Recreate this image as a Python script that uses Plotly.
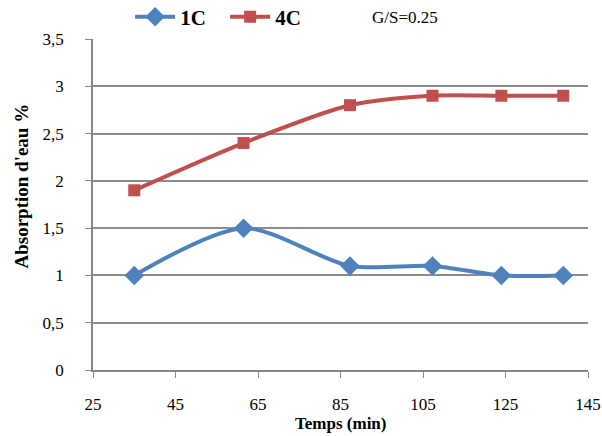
import plotly.graph_objects as go

temps = [35, 61.5, 87.3, 107.3, 124, 139]
s1c = [1.0, 1.5, 1.1, 1.1, 1.0, 1.0]
s4c = [1.9, 2.4, 2.8, 2.9, 2.9, 2.9]
x_ticks = [25, 45, 65, 85, 105, 125, 145]
y_ticks = [0, 0.5, 1, 1.5, 2, 2.5, 3, 3.5]

FONT = "Liberation Serif, Times New Roman, serif"
BLUE = "#4F81BD"
RED = "#C0504D"

fig = go.Figure()
fig.add_trace(go.Scatter(
    x=temps, y=s1c, name="<b>1C</b>", mode="lines+markers",
    line=dict(color=BLUE, width=4, shape="spline", smoothing=0.8),
    marker=dict(symbol="diamond", size=15, color=BLUE),
))
fig.add_trace(go.Scatter(
    x=temps, y=s4c, name="<b>4C</b>", mode="lines+markers",
    line=dict(color=RED, width=4, shape="spline", smoothing=0.8),
    marker=dict(symbol="square", size=12, color=RED),
))

fig.update_layout(
    width=602, height=436,
    margin=dict(l=93, r=14, t=39, b=66, autoexpand=False),
    paper_bgcolor="white", plot_bgcolor="white",
    separators=",.",
    font=dict(family=FONT, size=16, color="black"),
    showlegend=True,
    legend=dict(orientation="h", x=0.075, y=1.066, xanchor="left", yanchor="middle",
                font=dict(family=FONT, size=21, color="black"),
                itemwidth=40, entrywidth=40, tracegroupgap=0, bgcolor="rgba(0,0,0,0)"),
    xaxis=dict(range=[25, 145], tickvals=x_ticks, showgrid=False, zeroline=False,
               showline=True, linecolor="#868686", linewidth=1.5,
               ticks="outside", ticklen=6, tickcolor="#868686",
               ticklabelstandoff=12, tickfont=dict(family=FONT, size=17)),
    yaxis=dict(range=[0, 3.5], tickvals=y_ticks, showgrid=True, gridcolor="#8c8c8c",
               gridwidth=1.5, zeroline=False,
               showline=True, linecolor="#868686", linewidth=1.5,
               ticks="outside", ticklen=6, tickcolor="#868686",
               ticklabelstandoff=18, tickfont=dict(family=FONT, size=17)),
    annotations=[
        dict(text="G/S=0.25", x=0.63, y=1.066, xref="paper", yref="paper", showarrow=False,
             font=dict(family=FONT, size=17), xanchor="center", yanchor="middle"),
        dict(text="<b>Temps (min)</b>", x=0.5, y=-0.162, xref="paper", yref="paper",
             showarrow=False, font=dict(family=FONT, size=17), yanchor="middle"),
        dict(text="<b>Absorption d'eau %</b>", x=-0.145, y=0.555, xref="paper", yref="paper",
             showarrow=False, textangle=-90, font=dict(family=FONT, size=19),
             xanchor="center", yanchor="middle"),
    ],
)

fig.write_html("out.html", config={"displayModeBar": False},
               post_script="document.body.style.margin='0';")
